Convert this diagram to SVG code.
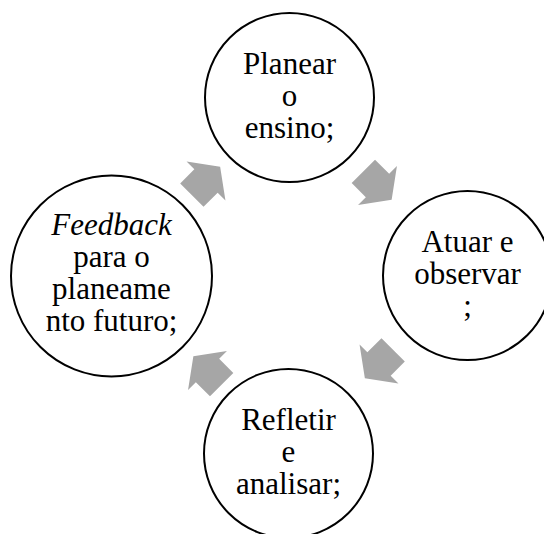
<svg xmlns="http://www.w3.org/2000/svg" width="544" height="534" viewBox="0 0 544 534">
  <style>
    .node { fill: #FFFFFF; stroke: #000000; stroke-width: 2; }
    .label { font-family: "Liberation Serif", "Times New Roman", serif; font-size: 31px; fill: #000000; text-anchor: middle; }
    .arrow { fill: #A6A6A6; stroke: none; }
  </style>
  <defs>
    <path id="cycleArrow" d="M-20,-16.5 L0,-16.5 L0,-27.5 L20,0 L0,27.5 L0,16.5 L-20,16.5 Z"/>
  </defs>
  <rect width="544" height="534" fill="#FFFFFF"/>

  <g id="connectors">
    <use href="#cycleArrow" class="arrow" transform="translate(206,181) rotate(-45)"/>
    <use href="#cycleArrow" class="arrow" transform="translate(377.5,185.5) rotate(45)"/>
    <use href="#cycleArrow" class="arrow" transform="translate(379,364) rotate(135)"/>
    <use href="#cycleArrow" class="arrow" transform="translate(207.5,370.5) rotate(225)"/>
  </g>

  <g id="node-planear">
    <circle class="node" cx="289.5" cy="97.5" r="84.5"/>
    <text class="label" x="289.5" y="73.5">Planear</text>
    <text class="label" x="289.5" y="105.5">o</text>
    <text class="label" x="289.5" y="137.5">ensino;</text>
  </g>

  <g id="node-atuar">
    <circle class="node" cx="467.5" cy="275.5" r="84.5"/>
    <text class="label" x="467.5" y="252">Atuar e</text>
    <text class="label" x="467.5" y="284">observar</text>
    <text class="label" x="467.5" y="316">;</text>
  </g>

  <g id="node-refletir">
    <circle class="node" cx="288.5" cy="453.5" r="84.5"/>
    <text class="label" x="288.5" y="429.5">Refletir</text>
    <text class="label" x="288.5" y="461.5">e</text>
    <text class="label" x="288.5" y="493.5">analisar;</text>
  </g>

  <g id="node-feedback">
    <circle class="node" cx="111.5" cy="276" r="100.5"/>
    <text class="label" x="111.5" y="235" font-style="italic">Feedback</text>
    <text class="label" x="111.5" y="267">para o</text>
    <text class="label" x="111.5" y="299">planeame</text>
    <text class="label" x="111.5" y="331">nto futuro;</text>
  </g>
</svg>
